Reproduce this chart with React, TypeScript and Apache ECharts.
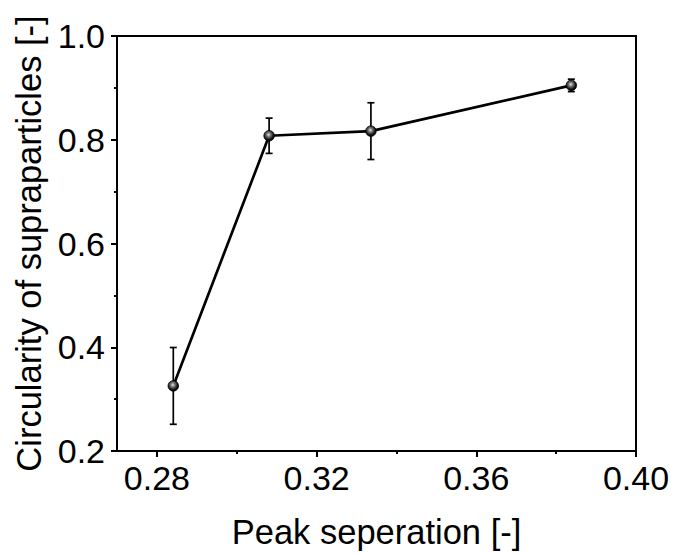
import React, { useEffect, useRef } from "react";
import * as echarts from "echarts";

const xValues = [0.2841, 0.3081, 0.3336, 0.3838];
const yValues = [0.3255, 0.8077, 0.8166, 0.9048];
const yErrors = [0.074, 0.034, 0.0547, 0.012];
const xTickLabels = ["0.28", "0.32", "0.36", "0.40"];
const xMinorTicks = [0.3, 0.34, 0.38];
const yTickLabels = ["0.2", "0.4", "0.6", "0.8", "1.0"];
const xTitle = "Peak seperation [-]";
const yTitle = "Circularity of supraparticles [-]";

const FONT = "'Liberation Sans', Arial, sans-serif";

export default function App() {
  const ref = useRef<HTMLDivElement>(null);
  useEffect(() => {
    if (!ref.current) return;
    const chart = echarts.init(ref.current, null, { renderer: "svg" });
    const xMajor = xTickLabels.map(Number);
    const pts = xValues.map((x, i) => [x, yValues[i]]);
    const errData = xValues.map((x, i) => [x, yValues[i] - yErrors[i], yValues[i] + yErrors[i]]);
    chart.setOption({
      animation: false,
      backgroundColor: "#fff",
      grid: {
        left: 117,
        right: 37,
        top: 36,
        bottom: 103,
        show: true,
        borderColor: "#000",
        borderWidth: 2,
      },
      xAxis: [
        {
          type: "value",
          min: 0.27,
          max: 0.4,
          position: "bottom",
          splitLine: { show: false },
          axisLine: { show: true, onZero: false, lineStyle: { color: "#000", width: 2 } },
          axisTick: {
            show: true,
            inside: false,
            length: 6,
            customValues: xMajor,
            lineStyle: { color: "#000", width: 2 },
          },
          axisLabel: {
            show: true,
            customValues: xMajor,
            formatter: (v: number) => v.toFixed(2),
            fontSize: 34,
            fontFamily: FONT,
            color: "#000",
            margin: 10,
          },
          name: xTitle,
          nameLocation: "middle",
          nameGap: 63,
          nameTextStyle: { fontSize: 34.5, fontFamily: FONT, color: "#000" },
        },
        {
          type: "value",
          min: 0.27,
          max: 0.4,
          position: "bottom",
          splitLine: { show: false },
          axisLine: { show: false, onZero: false },
          axisTick: {
            show: true,
            inside: false,
            length: 3,
            customValues: xMinorTicks,
            lineStyle: { color: "#000", width: 2 },
          },
          axisLabel: { show: false },
        },
      ],
      yAxis: {
        type: "value",
        min: 0.2,
        max: 1.0,
        interval: 0.2,
        splitLine: { show: false },
        axisLine: { show: true, onZero: false, lineStyle: { color: "#000", width: 2 } },
        axisTick: { show: true, inside: false, length: 6, lineStyle: { color: "#000", width: 2 } },
        minorTick: { show: true, splitNumber: 2, length: 3, lineStyle: { color: "#000", width: 2 } },
        axisLabel: {
          formatter: (v: number) => {
            const s = v.toFixed(1);
            return yTickLabels.includes(s) ? s : "";
          },
          fontSize: 34,
          fontFamily: FONT,
          color: "#000",
          margin: 12,
        },
        name: yTitle,
        nameLocation: "middle",
        nameGap: 66,
        nameTextStyle: { fontSize: 34.5, fontFamily: FONT, color: "#000" },
      },
      series: [
        {
          type: "custom",
          xAxisIndex: 0,
          yAxisIndex: 0,
          z: 1,
          data: errData,
          renderItem: (params: any, api: any) => {
            const x = api.value(0);
            const lo = api.coord([x, api.value(1)]);
            const hi = api.coord([x, api.value(2)]);
            const cw = 3.5;
            const style = { stroke: "#000", lineWidth: 1.7 };
            return {
              type: "group",
              children: [
                { type: "line", shape: { x1: lo[0], y1: lo[1], x2: hi[0], y2: hi[1] }, style },
                { type: "line", shape: { x1: lo[0] - cw, y1: lo[1], x2: lo[0] + cw, y2: lo[1] }, style },
                { type: "line", shape: { x1: hi[0] - cw, y1: hi[1], x2: hi[0] + cw, y2: hi[1] }, style },
              ],
            };
          },
        },
        {
          type: "line",
          xAxisIndex: 0,
          yAxisIndex: 0,
          z: 3,
          data: pts,
          lineStyle: { color: "#000", width: 2.7 },
          symbol: "circle",
          symbolSize: 10.5,
          itemStyle: {
            color: new echarts.graphic.RadialGradient(0.45, 0.4, 0.6, [
              { offset: 0, color: "#e8e8e8" },
              { offset: 0.3, color: "#808080" },
              { offset: 0.75, color: "#151515" },
              { offset: 1, color: "#000" },
            ]),
            borderColor: "#000",
            borderWidth: 0.8,
          },
        },
      ],
    });
    return () => chart.dispose();
  }, []);
  return (
    <div
      ref={ref}
      style={{ position: "fixed", left: 0, top: 0, width: 673, height: 554, background: "#fff" }}
    />
  );
}
